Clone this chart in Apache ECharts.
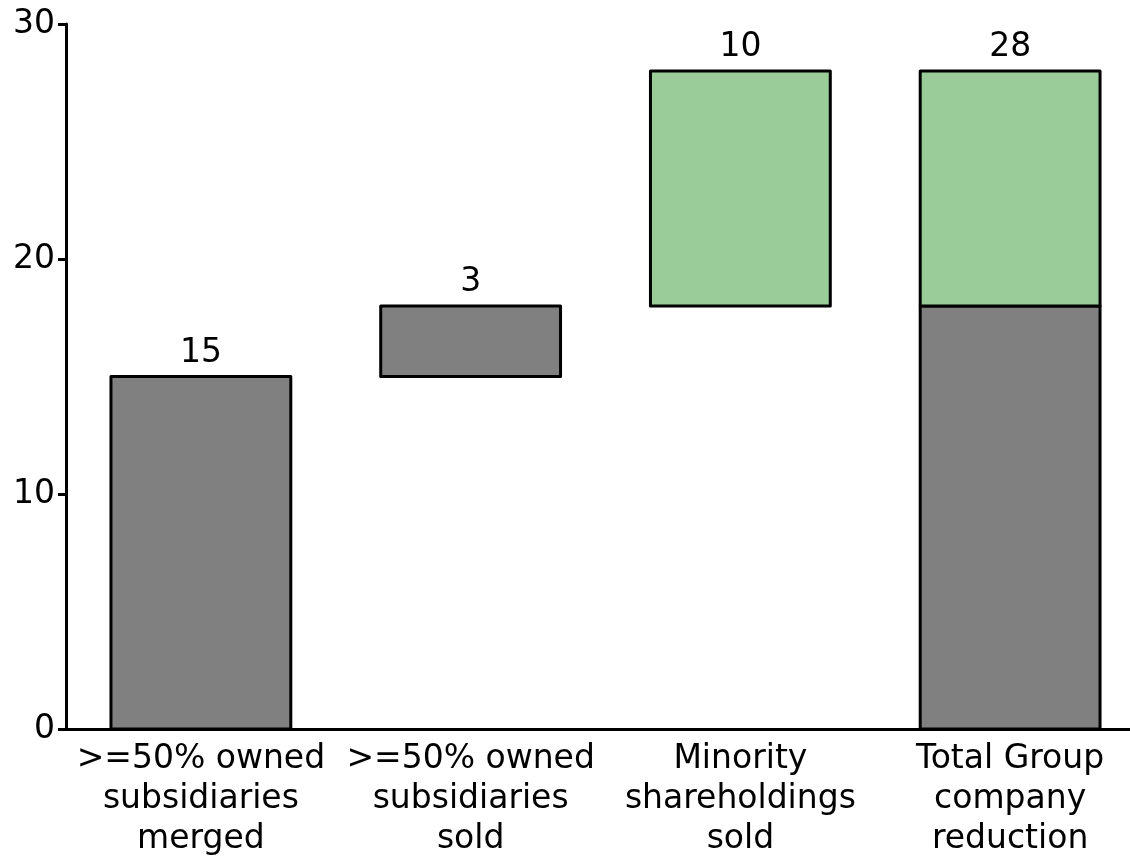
<!DOCTYPE html>
<html>
<head>
<meta charset="utf-8">
<script src="https://cdn.jsdelivr.net/npm/echarts@6/dist/echarts.min.js"></script>
<style>
  html, body { margin: 0; padding: 0; background: #ffffff; overflow: hidden; }
  /* the plot runs slightly past the right edge of the page */
  #chart { width: 1160px; height: 859px; }
</style>
</head>
<body>
<div id="chart"></div>
<script>
// Categories shown along the x axis
const categories = [
  '>=50% owned\nsubsidiaries\nmerged',
  '>=50% owned\nsubsidiaries\nsold',
  'Minority\nshareholdings\nsold',
  'Total Group\ncompany\nreduction'
];

// Reduction steps (number of companies)
const mergedSubsidiaries = 15;
const soldSubsidiaries = 3;
const soldMinority = 10;

// Y axis ticks
const yTicks = [0, 10, 20, 30];

// Derived waterfall pieces
const majoritySubtotal = mergedSubsidiaries + soldSubsidiaries;
const totalReduction = majoritySubtotal + soldMinority;

// Segment colours
const GREY = '#808080';
const GREEN = '#99cc99';

// Each segment: [categoryIndex, from, to, colour, label]
const segments = [
  [0, 0, mergedSubsidiaries, GREY, String(mergedSubsidiaries)],
  [1, mergedSubsidiaries, majoritySubtotal, GREY, String(soldSubsidiaries)],
  [2, majoritySubtotal, totalReduction, GREEN, String(soldMinority)],
  [3, 0, majoritySubtotal, GREY, ''],
  [3, majoritySubtotal, totalReduction, GREEN, String(totalReduction)]
];

const FONT = 'DejaVu Sans';
const FS = 33;
const BAR_RATIO = 180 / 270;

const chart = echarts.init(document.getElementById('chart'), null, { renderer: 'canvas' });

function renderSegment(params, api) {
  const idx = params.dataIndex;
  const seg = segments[idx];
  const i = api.value(0);
  const lo = api.value(1);
  const hi = api.value(2);
  const pLo = api.coord([i, lo]);
  const pHi = api.coord([i, hi]);
  const w = api.size([1, 0])[0] * BAR_RATIO;
  const children = [{
    type: 'rect',
    shape: { x: pLo[0] - w / 2, y: pHi[1], width: w, height: pLo[1] - pHi[1] },
    style: { fill: seg[3], stroke: '#000', lineWidth: 3, lineJoin: 'round' }
  }];
  if (seg[4]) {
    children.push({
      type: 'text',
      style: {
        text: seg[4],
        x: pLo[0],
        y: pHi[1] - 7,
        align: 'center',
        verticalAlign: 'bottom',
        fill: '#000',
        font: FS + 'px "' + FONT + '"'
      },
      z2: 10
    });
  }
  return { type: 'group', children };
}

chart.setOption({
  animation: false,
  backgroundColor: '#ffffff',
  grid: { left: 66, top: 24, width: 1079, height: 708, containLabel: false },
  xAxis: {
    type: 'category',
    data: categories,
    boundaryGap: true,
    axisLine: { show: true, lineStyle: { color: '#000', width: 3 } },
    axisTick: { show: false },
    axisLabel: {
      color: '#000',
      fontFamily: FONT,
      fontSize: FS,
      lineHeight: 40,
      margin: 10,
      interval: 0
    }
  },
  yAxis: {
    type: 'value',
    min: yTicks[0],
    max: yTicks[yTicks.length - 1],
    interval: yTicks[1] - yTicks[0],
    axisLine: { show: true, lineStyle: { color: '#000', width: 3 } },
    axisTick: { show: true, length: 8, lineStyle: { color: '#000', width: 3 } },
    axisLabel: { color: '#000', fontFamily: FONT, fontSize: FS, margin: 11 },
    splitLine: { show: false }
  },
  series: [{
    type: 'custom',
    renderItem: renderSegment,
    encode: { x: 0, y: [1, 2] },
    data: segments.map(s => [s[0], s[1], s[2]]),
    clip: false,
    z: 1
  }]
});
</script>
</body>
</html>
